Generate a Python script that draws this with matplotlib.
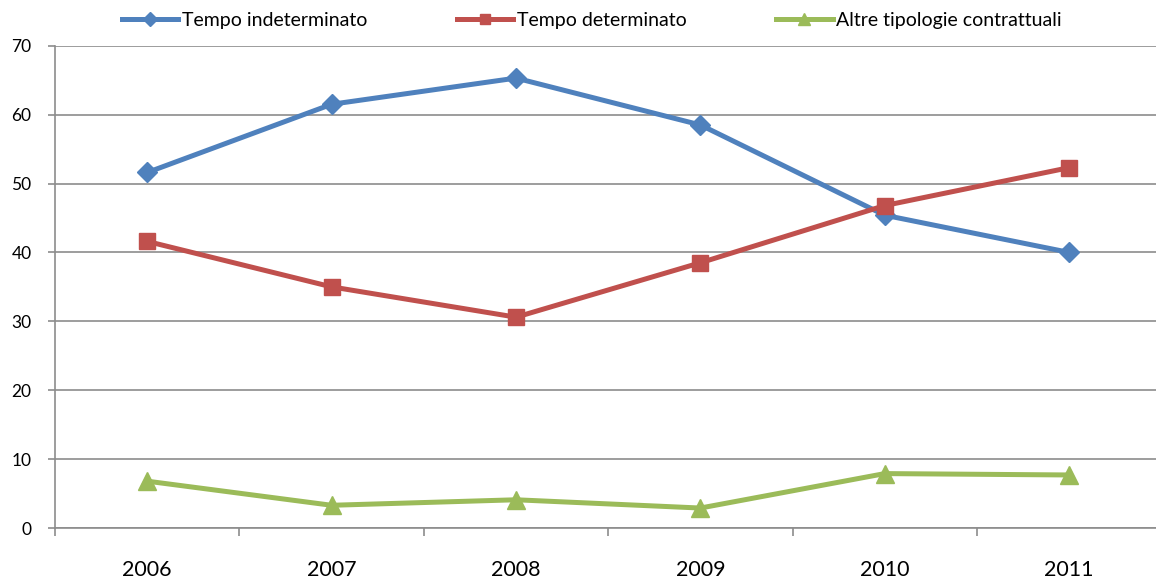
import matplotlib.pyplot as plt
from matplotlib.ticker import MultipleLocator, FixedLocator

plt.rcParams['font.family'] = ['Lato', 'DejaVu Sans']

years = ['2006', '2007', '2008', '2009', '2010', '2011']
indeterminato = [51.6, 61.5, 65.3, 58.5, 45.4, 40.0]
determinato = [41.6, 35.0, 30.6, 38.5, 46.8, 52.3]
altre = [6.8, 3.3, 4.1, 2.9, 7.9, 7.7]

fig = plt.figure(figsize=(11.56, 5.83), dpi=100)
ax = fig.add_axes([0.0476, 0.0943, 0.957, 0.8273])

x = range(len(years))
ax.plot(x, indeterminato, color='#4F81BD', lw=3.6, marker='D', ms=10,
        label='Tempo indeterminato')
ax.plot(x, determinato, color='#C0504D', lw=3.6, marker='s', ms=11,
        label='Tempo determinato')
ax.plot(x, altre, color='#9BBB59', lw=3.6, marker='^', ms=13,
        label='Altre tipologie contrattuali')

ax.set_xlim(-0.5, len(years) - 0.5)
ax.set_ylim(0, 70)
ax.yaxis.set_major_locator(MultipleLocator(10))
ax.grid(axis='y', color='#8c8c8c', lw=1.2)
ax.set_axisbelow(True)

ax.set_xticks(list(x))
ax.set_xticklabels(years, fontsize=15.5)
ax.xaxis.set_minor_locator(FixedLocator([i + 0.5 for i in range(-1, len(years))]))
ax.tick_params(axis='x', which='major', length=0, pad=23)
ax.tick_params(axis='x', which='minor', length=6, color='#8c8c8c', width=1.2)
ax.tick_params(axis='y', length=5, color='#8c8c8c', width=1.2, labelsize=12.5, pad=12)

for s in ['top', 'right']:
    ax.spines[s].set_visible(False)
for s in ['left', 'bottom']:
    ax.spines[s].set_color('#8c8c8c')
    ax.spines[s].set_linewidth(1.2)

fig.legend(loc='center', bbox_to_anchor=(0.512, 0.965), ncol=3, frameon=False,
           fontsize=14, handlelength=2.9, handletextpad=0.2, columnspacing=4.6,
           markerscale=0.7)

fig.savefig('out.png', dpi=100)
